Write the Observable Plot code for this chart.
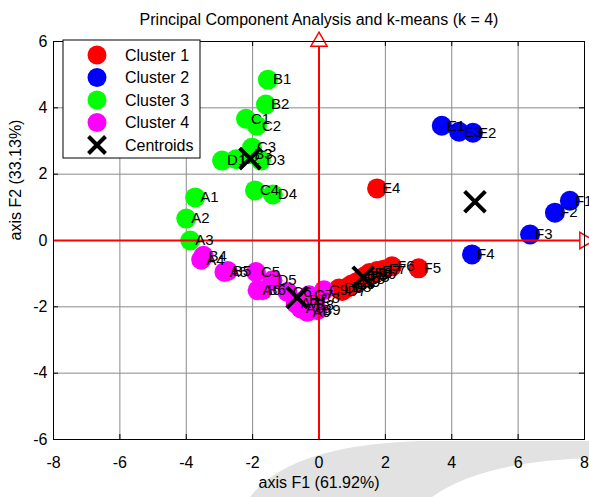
<!DOCTYPE html>
<html><head><meta charset="utf-8">
<script src="https://cdn.jsdelivr.net/npm/d3@7"></script>
<script src="https://cdn.jsdelivr.net/npm/@observablehq/plot@0.6"></script>
<style>body{margin:0;background:#fff;} svg{display:block;}</style>
</head><body><div id="chart"></div>
<script>
const title = "Principal Component Analysis and k-means (k = 4)";
const xLabel = "axis F1 (61.92%)";
const yLabel = "axis F2 (33.13%)";
const xTicks = [-8,-6,-4,-2,0,2,4,6,8];
const yTicks = [-6,-4,-2,0,2,4,6];
const clusterNames = ["Cluster 1","Cluster 2","Cluster 3","Cluster 4"];
const clusterColors = ["#ff0000","#0000ff","#00ff00","#ff00ff"];
const centroidName = "Centroids";

// Cluster 1 (red)
const c1Labels = ["E4","F5","F6","F7","E7","E6","F8","F9","E5","E8","D9","E9","D8","D7","D6"];
const c1F1 =     [1.75, 3.00, 2.20, 1.95, 1.75, 1.62, 1.52, 1.38, 1.42, 1.28, 1.12, 0.98, 0.85, 0.70, 0.60];
const c1F2 =     [1.57,-0.84,-0.78,-0.88,-0.92,-1.02,-0.98,-1.08,-1.12,-1.18,-1.27,-1.33,-1.42,-1.52,-1.45];
// Cluster 2 (blue)
const c2Labels = ["E1","E3","E2","F1","F2","F3","F4"];
const c2F1 =     [3.70, 4.22, 4.64, 7.56, 7.11, 6.36, 4.61];
const c2F2 =     [3.46, 3.28, 3.25, 1.20, 0.84, 0.18,-0.42];
// Cluster 3 (green)
const c3Labels = ["A1","A2","A3","B1","B2","C1","C2","C3","B3","D1","D2","D3","C4","D4"];
const c3F1 =     [-3.73,-4.00,-3.88,-1.54,-1.60,-2.20,-1.87,-2.02,-2.10,-2.92,-2.50,-1.75,-1.93,-1.39];
const c3F2 =     [ 1.30, 0.66, 0.00, 4.85, 4.10, 3.67, 3.46, 2.80, 2.60, 2.41, 2.45, 2.41, 1.51, 1.39];
// Cluster 4 (magenta)
const c4Labels = ["A4","B4","A5","B5","C5","D5","A6","B6","C6","A7","B7","C7","A8","B8","C8","A9","B9","C9"];
const c4F1 =     [-3.55,-3.48,-2.85,-2.75,-1.90,-1.40,-1.85,-1.70,-0.95,-0.70,-0.45,-0.30,-0.55,-0.25,-0.10,-0.35,-0.05, 0.15];
const c4F2 =     [-0.58,-0.46,-0.95,-0.92,-0.95,-1.20,-1.50,-1.50,-1.55,-1.90,-1.80,-1.65,-2.05,-1.95,-1.75,-2.15,-2.10,-1.50];
// Centroids
const centroidF1 = [1.33, 4.70, -2.08, -0.66];
const centroidF2 = [-1.11, 1.17, 2.47, -1.72];

const obs = [];
[[c1Labels,c1F1,c1F2],[c2Labels,c2F1,c2F2],[c3Labels,c3F1,c3F2],[c4Labels,c4F1,c4F2]].forEach(([L,X,Y],k)=>{
  L.forEach((l,i)=>obs.push({label:l, f1:X[i], f2:Y[i], cluster:clusterNames[k]}));
});
const centroids = centroidF1.map((v,i)=>({f1:v, f2:centroidF2[i]}));

const FONT = "Liberation Sans, Arial, sans-serif";
const gridX = xTicks.filter(v=>v!==0 && Math.abs(v)<8);
const gridY = yTicks.filter(v=>v!==0 && Math.abs(v)<6);
const tk = 0.15;

const chart = Plot.plot({
  width: 589, height: 497,
  marginLeft: 53, marginRight: 5, marginTop: 41, marginBottom: 58,
  style: {fontFamily: FONT, fontSize: "16px", background: "transparent", color: "black"},
  x: {domain: [-8, 8]},
  y: {domain: [-6, 6]},
  color: {domain: clusterNames, range: clusterColors},
  marks: [
    Plot.frame({fill: "white", stroke: null}),
    Plot.ruleX(gridX, {stroke: "#8a8a8a", strokeWidth: 1}),
    Plot.ruleY(gridY, {stroke: "#8a8a8a", strokeWidth: 1}),
    Plot.ruleX(xTicks, {y1: -6, y2: -6 + tk, stroke: "black"}),
    Plot.ruleX(xTicks, {y1: 6, y2: 6 - tk, stroke: "black"}),
    Plot.ruleY(yTicks, {x1: -8, x2: -8 + tk, stroke: "black"}),
    Plot.ruleY(yTicks, {x1: 8, x2: 8 - tk, stroke: "black"}),
    Plot.dot(obs, {x: "f1", y: "f2", r: 10, fill: "cluster", stroke: null}),
    Plot.ruleX([0], {y1: -6, y2: 6, stroke: "#ff0000", strokeWidth: 2}),
    Plot.ruleY([0], {x1: -8, x2: 8, stroke: "#ff0000", strokeWidth: 2}),
    Plot.dot([{x: 0, y: 6}], {x: "x", y: "y", symbol: "triangle", r: 6, fill: "white", stroke: "#ff0000", strokeWidth: 1.5}),
    Plot.dot([{x: 8, y: 0}], {x: "x", y: "y", symbol: "triangle", r: 6, rotate: 90, fill: "white", stroke: "#ff0000", strokeWidth: 1.5}),
    Plot.text(obs, {x: "f1", y: "f2", text: "label", dx: 5, textAnchor: "start", fontSize: 15, fill: "black"}),
    Plot.dot(centroids, {x: "f1", y: "f2", symbol: "times", r: 9.5, stroke: "black", strokeWidth: 4}),
    Plot.frame({stroke: "black"}),
    Plot.axisX({ticks: xTicks, tickSize: 0, tickPadding: 17, label: null, tickFormat: d => String(d)}),
    Plot.axisY({ticks: yTicks, tickSize: 0, tickPadding: 6, label: null, tickFormat: d => String(d)}),
    Plot.text([xLabel], {frameAnchor: "bottom", dy: 48, fontSize: 16}),
    Plot.text([yLabel], {frameAnchor: "left", dx: -38, rotate: -90, fontSize: 16}),
    Plot.text([title], {frameAnchor: "top", dy: -28, fontSize: 16})
  ]
});
document.getElementById("chart").appendChild(chart);

const svg = d3.select(chart);
// faint grey watermark swoosh behind the lower-right of the figure
svg.insert("path", ":first-child")
  .attr("d", "M250,497 Q290,445 420,441 L589,441 L589,458 Q480,462 432,497 Z")
  .attr("fill", "#e2e2e2");

// Legend box inside the plot (top-left)
const lg = svg.append("g").attr("font-family", FONT).attr("font-size", 16).attr("text-anchor", "start");
const lx = 63, ly = 40, lw = 137, lh = 118, rowH = 22.5;
lg.append("rect").attr("x", lx).attr("y", ly).attr("width", lw).attr("height", lh)
  .attr("fill", "white").attr("stroke", "black");
const items = clusterNames.map((n,i)=>({name:n, color:clusterColors[i]})).concat([{name:centroidName, color:null}]);
items.forEach((it,i)=>{
  const cy = ly + 15 + i*rowH, cx = lx + 34;
  if (it.color) {
    lg.append("circle").attr("cx", cx).attr("cy", cy).attr("r", 9.5).attr("fill", it.color);
  } else {
    const s = 8.5;
    lg.append("path").attr("d", `M${cx-s},${cy-s}L${cx+s},${cy+s}M${cx-s},${cy+s}L${cx+s},${cy-s}`)
      .attr("stroke", "black").attr("stroke-width", 4);
  }
  lg.append("text").attr("x", lx + 62).attr("y", cy).attr("dy", "0.35em").attr("text-anchor", "start").text(it.name);
});
</script>
</body></html>
